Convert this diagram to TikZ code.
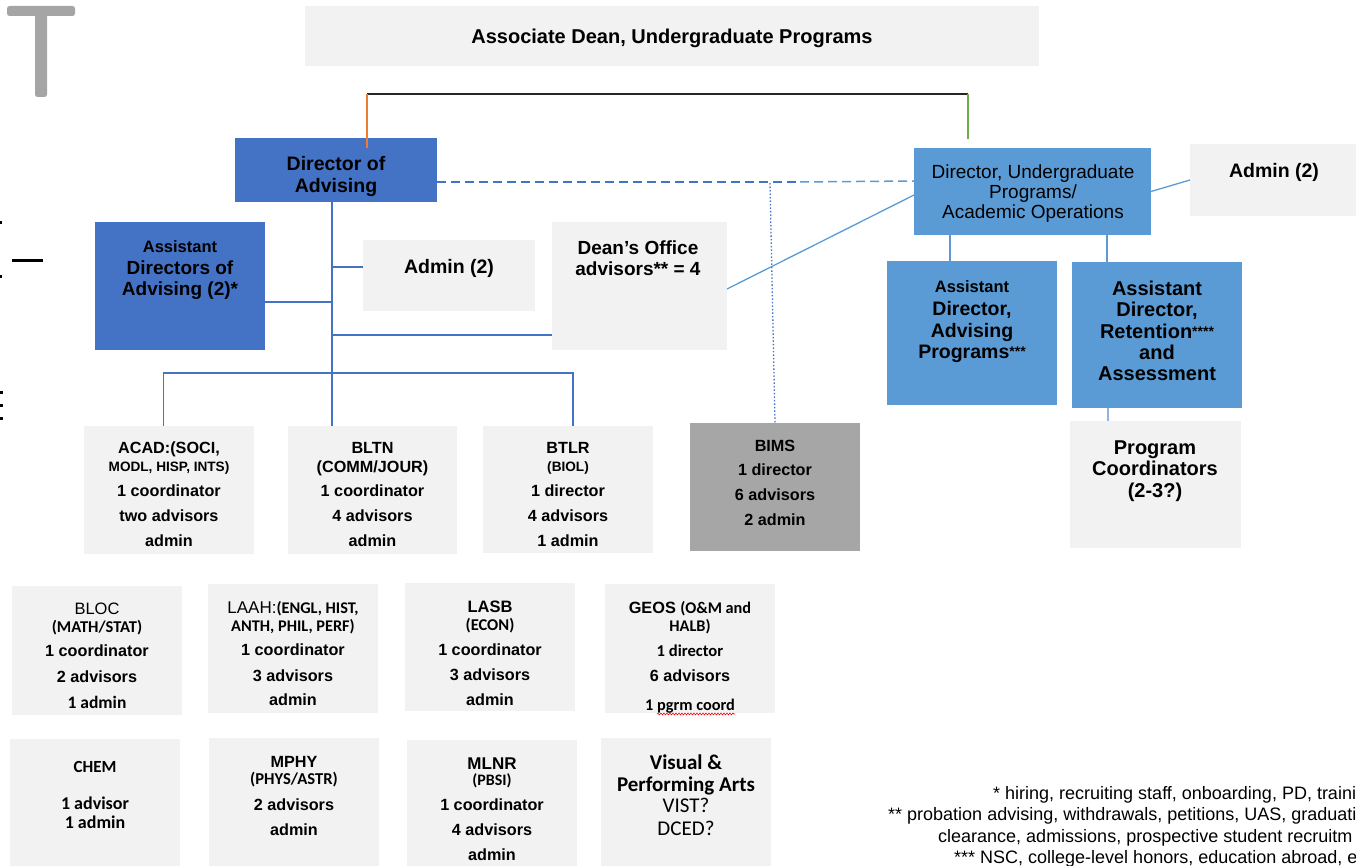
\documentclass[tikz,border=0pt]{standalone}
\usepackage{fontspec}
\setmainfont{Liberation Sans}
\newfontfamily\calib{Carlito}
\usetikzlibrary{decorations.pathmorphing}
\definecolor{dblue}{HTML}{4472C4}
\definecolor{mblue}{HTML}{5B9BD5}
\definecolor{pblue}{HTML}{8FB4E3}
\definecolor{lgray}{HTML}{F2F2F2}
\definecolor{mgray}{HTML}{A6A6A6}
\definecolor{tgray}{HTML}{A5A5A5}
\definecolor{orng}{HTML}{ED7D31}
\definecolor{grn}{HTML}{70AD47}
\newcounter{lnc}
\newcommand\fs[1]{\fontsize{#1}{#1}\selectfont}
\newcommand\Lt[4]{\stepcounter{lnc}\node[tx,font=\fs{#3}\bfseries] (t\arabic{lnc}) at (#1,{#2+0.36*#3}) {#4};}
\newcommand\Bx[6]{\node[bx,fill=#6,minimum width={#4-#2},minimum height={#5-#3}] (#1) at (#2,#3) {};}
\begin{document}
\begin{tikzpicture}[x=1pt,y=-1pt,
  tx/.style={inner sep=0pt,anchor=base},
  bx/.style={inner sep=0pt,outer sep=0pt,anchor=north west,draw=none},
  ln/.style={line width=1.3pt,dblue},
  lnr/.style={line width=1.3pt,mblue}]
\useasboundingbox (0,0) rectangle (1356,866);
\clip (0,0) rectangle (1356,866);
% left fragments
\fill[tgray,rounded corners=2.5pt] (7,6) rectangle (75,16);
\fill[tgray,rounded corners=2.5pt] (35,10) rectangle (47,97);
\fill[black] (0,221) rectangle (2,224);
\fill[black] (0,275) rectangle (2,278);
\fill[black] (0,391) rectangle (3,394);
\fill[black] (0,404) rectangle (3,407);
\fill[black] (0,417) rectangle (3,420);
\fill[black] (12,259.5) rectangle (43,262.5);
% boxes
\Bx{assoc}{305}{6}{1039}{66}{lgray}
\Bx{dadv}{235}{138}{437}{202}{dblue}
\Bx{dug}{914}{148}{1151}{235}{mblue}
\Bx{admr}{1190}{144}{1370}{216}{lgray}
\Bx{asd}{95}{222}{265}{350}{dblue}
\Bx{adm}{363}{240}{535}{311}{lgray}
\Bx{dean}{552}{222}{727}{350}{lgray}
\Bx{adp}{887}{261}{1057}{405}{mblue}
\Bx{ret}{1072}{262}{1242}{408}{mblue}
\Bx{pc}{1070}{421}{1241}{548}{lgray}
\Bx{acad}{84}{426}{254}{554}{lgray}
\Bx{bltn}{288}{426}{457}{554}{lgray}
\Bx{btlr}{483}{426}{653}{553}{lgray}
\Bx{bims}{690}{423}{860}{551}{mgray}
\Bx{bloc}{12}{586}{182}{715}{lgray}
\Bx{laah}{208}{584}{378}{713}{lgray}
\Bx{lasb}{405}{583}{575}{711}{lgray}
\Bx{geos}{605}{584}{775}{713}{lgray}
\Bx{chem}{10}{739}{180}{870}{lgray}
\Bx{mphy}{209}{738}{379}{870}{lgray}
\Bx{mlnr}{407}{740}{577}{870}{lgray}
\Bx{vpa}{601}{738}{771}{870}{lgray}
% connectors
\coordinate (topL) at (367,94);
\coordinate (topR) at (968,94);
\draw[black!85,line width=1.3pt] (topL) -- (topR);
\draw[orng,line width=1.3pt] (topL) -- ([xshift=31pt,yshift=-10pt]dadv.north);
\draw[grn,line width=1.3pt] (topR) -- ([xshift=-64.5pt,yshift=9pt]dug.north);
\coordinate (dmid) at (800,182);
\draw[dblue,line width=1.5pt,dash pattern=on 9pt off 5pt] ([yshift=-12pt]dadv.east) -- (dmid);
\draw[mblue,line width=1.5pt,dash pattern=on 9pt off 5pt] (dmid) -- ([yshift=10.5pt]dug.west);
\coordinate (dtop) at (770,183);
\draw[dblue,line width=1.3pt,dash pattern=on 1.5pt off 2pt] (dtop) -- (bims.north);
\coordinate (tk) at (332,202);
\draw[ln] (tk) -- ([xshift=-40.5pt]bltn.north);
\draw[ln] ([yshift=-16pt]asd.east) -- ([yshift=-16pt]asd.east -| tk);
\draw[ln] ([yshift=8.5pt]adm.west) -- ([yshift=8.5pt]adm.west -| tk);
\draw[ln] ([yshift=-49pt]dean.west) -- ([yshift=-49pt]dean.west -| tk);
\coordinate (bus) at (332,373);
\draw[ln] ([xshift=-5.5pt]acad.north) |- (bus) -| ([xshift=5pt]btlr.north);
\draw[lnr] ([yshift=-3pt]dean.east) -- ([yshift=-3.5pt]dug.west);
\draw[lnr] (dug.east) -- (admr.west);
\draw[lnr] ([xshift=-82.5pt]dug.south) -- ([xshift=-82.5pt]dug.south |- adp.north);
\draw[lnr] ([xshift=74.5pt]dug.south) -- ([xshift=74.5pt]dug.south |- ret.north);
\draw[pblue,line width=1.3pt] ([xshift=-49pt]ret.south) -- ([xshift=-49pt]ret.south |- pc.north);
% texts
\Lt{672}{36}{20}{Associate Dean, Undergraduate Programs}
\Lt{336}{163}{19.5}{Director of}
\Lt{336}{185}{19.5}{Advising}
\Lt{1033}{172}{19}{\mdseries Director, Undergraduate}
\Lt{1033}{192}{19}{\mdseries Programs/}
\Lt{1033}{212}{19}{\mdseries Academic Operations}
\Lt{1274}{170}{19.5}{Admin (2)}
\Lt{180}{247}{16.5}{Assistant}
\Lt{180}{268}{19}{Directors of}
\Lt{180}{289}{19}{Advising (2)*}
\Lt{449}{266}{19.5}{Admin (2)}
\Lt{638}{248}{19}{Dean’s Office}
\Lt{638}{269}{19}{advisors** = 4}
\Lt{972}{287}{16.5}{Assistant}
\Lt{972}{308}{19.5}{Director,}
\Lt{972}{330}{19.5}{Advising}
\Lt{972}{351}{19.5}{Programs\raisebox{2pt}{\fs{14}***}}
\Lt{1157}{288}{20}{Assistant}
\Lt{1157}{309}{20}{Director,}
\Lt{1157}{331}{20}{Retention\raisebox{2pt}{\fs{14}****}}
\Lt{1157}{352}{20}{and}
\Lt{1157}{373}{20}{Assessment}
\Lt{1155}{447}{20}{Program}
\Lt{1155}{468}{20}{Coordinators}
\Lt{1155}{490}{20}{(2-3?)}
% ACAD
\Lt{169}{448}{16.2}{ACAD:(SOCI,}
\Lt{169}{467}{13.6}{MODL, HISP, INTS)}
\Lt{169}{491}{16.2}{1 coordinator}
\Lt{169}{516}{16.2}{two advisors}
\Lt{169}{541}{16.2}{admin}
% BLTN
\Lt{372.5}{448}{16.2}{BLTN}
\Lt{372.5}{467}{16.2}{(COMM/JOUR)}
\Lt{372.5}{491}{16.2}{1 coordinator}
\Lt{372.5}{516}{16.2}{4 advisors}
\Lt{372.5}{541}{16.2}{admin}
% BTLR
\Lt{568}{448}{16.2}{BTLR}
\Lt{568}{467}{13.6}{(BIOL)}
\Lt{568}{491}{16.2}{1 director}
\Lt{568}{516}{16.2}{4 advisors}
\Lt{568}{541}{16.2}{1 admin}
% BIMS
\Lt{775}{446}{16.2}{BIMS}
\Lt{775}{470}{16.2}{1 director}
\Lt{775}{495}{16.2}{6 advisors}
\Lt{775}{520}{16.2}{2 admin}
% BLOC
\Lt{97}{609}{16.5}{\mdseries BLOC}
\Lt{97}{627}{16.5}{\calib (MATH/STAT)}
\Lt{97}{651}{16.2}{1 coordinator}
\Lt{97}{677}{16.2}{2 advisors}
\Lt{97}{702}{17.5}{\calib 1 admin}
% LAAH
\Lt{293}{608}{16.3}{{\mdseries\fs{17}LAAH:}{\calib (ENGL, HIST,}}
\Lt{293}{626}{16.3}{\calib ANTH, PHIL, PERF)}
\Lt{293}{650}{16.2}{1 coordinator}
\Lt{293}{676}{16.2}{3 advisors}
\Lt{293}{700}{16.2}{admin}
% LASB
\Lt{490}{607}{16.5}{LASB}
\Lt{490}{625}{16.5}{\calib (ECON)}
\Lt{490}{650}{16.2}{1 coordinator}
\Lt{490}{675}{16.2}{3 advisors}
\Lt{490}{700}{16.2}{admin}
% GEOS
\Lt{690}{608}{16.3}{GEOS {\calib (O\&M and}}
\Lt{690}{626}{16.3}{\calib HALB)}
\Lt{690}{651}{16.6}{\calib 1 director}
\Lt{690}{676}{16.2}{6 advisors}
\Lt{690}{705}{16.3}{\calib 1 pgrm coord}
\draw[red,line width=0.6pt,decorate,decoration={snake,amplitude=0.9pt,segment length=3pt}] (657,714) -- (735,714);
% CHEM
\Lt{95}{766}{17}{\calib CHEM}
\Lt{95}{803}{18}{\calib 1 advisor}
\Lt{95}{822}{18}{\calib 1 admin}
% MPHY
\Lt{294}{762}{16.2}{MPHY}
\Lt{294}{779}{16.6}{\calib (PHYS/ASTR)}
\Lt{294}{805}{16.2}{2 advisors}
\Lt{294}{830}{16.2}{admin}
% MLNR
\Lt{492}{763}{17}{MLNR}
\Lt{492}{780}{16}{\calib (PBSI)}
\Lt{492}{805}{16.2}{1 coordinator}
\Lt{492}{830}{16.2}{4 advisors}
\Lt{492}{855}{16.2}{admin}
% VPA
\Lt{686}{762}{21}{\calib Visual \&}
\Lt{686}{784}{21}{\calib Performing Arts}
\Lt{686}{805}{21}{\calib\mdseries VIST?}
\Lt{686}{828}{21}{\calib\mdseries DCED?}
% footnotes
\node[tx,anchor=base west,font=\fs{18}] (fn1) at (993,799) {* hiring, recruiting staff, onboarding, PD, traini};
\node[tx,anchor=base west,font=\fs{18}] (fn2) at (888,820) {** probation advising, withdrawals, petitions, UAS, graduati};
\node[tx,anchor=base west,font=\fs{18}] (fn3) at (938,842) {clearance, admissions, prospective student recruitm};
\node[tx,anchor=base west,font=\fs{18}] (fn4) at (954,863) {*** NSC, college-level honors, education abroad, e};
\end{tikzpicture}
\end{document}
